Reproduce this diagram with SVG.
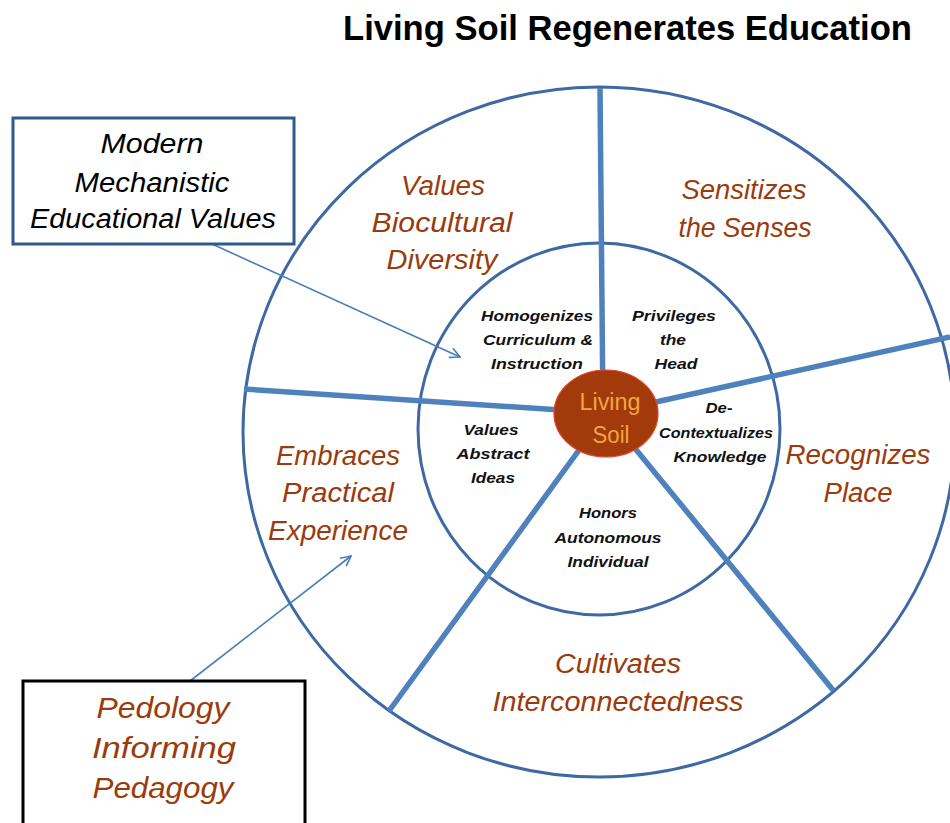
<svg xmlns="http://www.w3.org/2000/svg" width="950" height="823" viewBox="0 0 950 823">
<style>
.ring{fill:none;stroke:#3E69A3;stroke-width:3}
.spoke{stroke:#4F81BD;stroke-width:5.5;stroke-linecap:butt}
.arrow{fill:none;stroke:#4A7EBB;stroke-width:1.6}
.box{fill:#fff;stroke-width:3}
.title{font-family:"Liberation Sans",Arial,sans-serif;font-weight:bold;font-size:34.5px;fill:#000}
.outer{font-family:"Liberation Sans",Arial,sans-serif;font-style:italic;font-size:27px;fill:#9A3B0D;text-anchor:middle}
.boxtxt{font-family:"Liberation Sans",Arial,sans-serif;font-style:italic;font-size:27px;fill:#000;text-anchor:middle}
.ped{font-family:"Liberation Sans",Arial,sans-serif;font-style:italic;font-size:30px;fill:#9A3B0D;text-anchor:middle}
.inner{font-family:"Liberation Sans",Arial,sans-serif;font-style:italic;font-weight:bold;font-size:14.5px;fill:#111;text-anchor:middle}
.soil{font-family:"Liberation Sans",Arial,sans-serif;font-size:23px;fill:#F2A53E;text-anchor:middle}
</style>
<defs>
<marker id="open" viewBox="0 0 12 12" refX="11" refY="6" markerWidth="12" markerHeight="12" markerUnits="userSpaceOnUse" orient="auto">
<path d="M1,1 L11,6 L1,11" fill="none" stroke="#4A7EBB" stroke-width="1.6"/>
</marker>
</defs>
<rect width="950" height="823" fill="#fff"/>
<text class="title" x="343" y="40" textLength="569" lengthAdjust="spacingAndGlyphs">Living Soil Regenerates Education</text>

<g id="outer-ring"><ellipse class="ring" cx="599" cy="432" rx="356" ry="345"/></g>
<g id="inner-ring"><ellipse class="ring" cx="599" cy="429" rx="181" ry="186"/></g>

<g id="connectors">
<line class="spoke" x1="603" y1="413" x2="600" y2="88"/>
<line class="spoke" x1="606" y1="413" x2="950" y2="337"/>
<line class="spoke" x1="606" y1="413" x2="244" y2="389"/>
<line class="spoke" x1="606" y1="413" x2="389" y2="711"/>
<line class="spoke" x1="606" y1="413" x2="833" y2="690"/>
<line class="arrow" x1="212" y1="244" x2="460" y2="357" marker-end="url(#open)"/>
<line class="arrow" x1="190" y1="681" x2="351" y2="556" marker-end="url(#open)"/>
</g>

<g id="living-soil">
<ellipse cx="606" cy="413.5" rx="52" ry="43.5" fill="#A23A0B" stroke="#E0442A" stroke-width="1.2"/>
<text class="soil" x="610" y="410" textLength="61" lengthAdjust="spacingAndGlyphs">Living</text>
<text class="soil" x="611" y="443" textLength="37" lengthAdjust="spacingAndGlyphs">Soil</text>
</g>

<g id="values-biocultural-diversity">
<text class="outer" x="443" y="195" textLength="84" lengthAdjust="spacingAndGlyphs">Values</text>
<text class="outer" x="442" y="232" textLength="141" lengthAdjust="spacingAndGlyphs">Biocultural</text>
<text class="outer" x="442" y="269" textLength="111" lengthAdjust="spacingAndGlyphs">Diversity</text>
</g>
<g id="sensitizes-the-senses">
<text class="outer" x="744" y="199" textLength="125" lengthAdjust="spacingAndGlyphs">Sensitizes</text>
<text class="outer" x="745" y="237" textLength="133" lengthAdjust="spacingAndGlyphs">the Senses</text>
</g>
<g id="recognizes-place">
<text class="outer" x="858" y="464" textLength="145" lengthAdjust="spacingAndGlyphs">Recognizes</text>
<text class="outer" x="858" y="502" textLength="69" lengthAdjust="spacingAndGlyphs">Place</text>
</g>
<g id="cultivates-interconnectedness">
<text class="outer" x="618" y="673" textLength="126" lengthAdjust="spacingAndGlyphs">Cultivates</text>
<text class="outer" x="618" y="711" textLength="251" lengthAdjust="spacingAndGlyphs">Interconnectedness</text>
</g>
<g id="embraces-practical-experience">
<text class="outer" x="338" y="465" textLength="124" lengthAdjust="spacingAndGlyphs">Embraces</text>
<text class="outer" x="338" y="502" textLength="112" lengthAdjust="spacingAndGlyphs">Practical</text>
<text class="outer" x="338" y="540" textLength="140" lengthAdjust="spacingAndGlyphs">Experience</text>
</g>

<g id="homogenizes">
<text class="inner" x="537" y="321" textLength="112" lengthAdjust="spacingAndGlyphs">Homogenizes</text>
<text class="inner" x="538" y="345" textLength="110" lengthAdjust="spacingAndGlyphs">Curriculum &amp;</text>
<text class="inner" x="537" y="369" textLength="92" lengthAdjust="spacingAndGlyphs">Instruction</text>
</g>
<g id="privileges-the-head">
<text class="inner" x="674" y="321" textLength="84" lengthAdjust="spacingAndGlyphs">Privileges</text>
<text class="inner" x="673" y="345" textLength="26" lengthAdjust="spacingAndGlyphs">the</text>
<text class="inner" x="676" y="369" textLength="43" lengthAdjust="spacingAndGlyphs">Head</text>
</g>
<g id="decontextualizes-knowledge">
<text class="inner" x="719" y="413" textLength="27" lengthAdjust="spacingAndGlyphs">De-</text>
<text class="inner" x="716" y="438" textLength="114" lengthAdjust="spacingAndGlyphs">Contextualizes</text>
<text class="inner" x="720" y="462" textLength="93" lengthAdjust="spacingAndGlyphs">Knowledge</text>
</g>
<g id="values-abstract-ideas">
<text class="inner" x="491" y="435" textLength="55" lengthAdjust="spacingAndGlyphs">Values</text>
<text class="inner" x="493" y="459" textLength="73" lengthAdjust="spacingAndGlyphs">Abstract</text>
<text class="inner" x="493" y="483" textLength="44" lengthAdjust="spacingAndGlyphs">Ideas</text>
</g>
<g id="honors-autonomous-individual">
<text class="inner" x="608" y="518" textLength="58" lengthAdjust="spacingAndGlyphs">Honors</text>
<text class="inner" x="608" y="543" textLength="107" lengthAdjust="spacingAndGlyphs">Autonomous</text>
<text class="inner" x="608" y="567" textLength="81" lengthAdjust="spacingAndGlyphs">Individual</text>
</g>

<g id="modern-mechanistic-box">
<rect class="box" x="13" y="118" width="281" height="126" stroke="#2F5A8E"/>
<text class="boxtxt" x="152" y="153" textLength="103" lengthAdjust="spacingAndGlyphs">Modern</text>
<text class="boxtxt" x="152" y="192" textLength="155" lengthAdjust="spacingAndGlyphs">Mechanistic</text>
<text class="boxtxt" x="153" y="228" textLength="246" lengthAdjust="spacingAndGlyphs">Educational Values</text>
</g>
<g id="pedology-box">
<rect class="box" x="23" y="681" width="282" height="150" stroke="#000"/>
<text class="ped" x="163" y="718" textLength="133" lengthAdjust="spacingAndGlyphs">Pedology</text>
<text class="ped" x="164" y="758" textLength="144" lengthAdjust="spacingAndGlyphs">Informing</text>
<text class="ped" x="163" y="798" textLength="141" lengthAdjust="spacingAndGlyphs">Pedagogy</text>
</g>
</svg>
